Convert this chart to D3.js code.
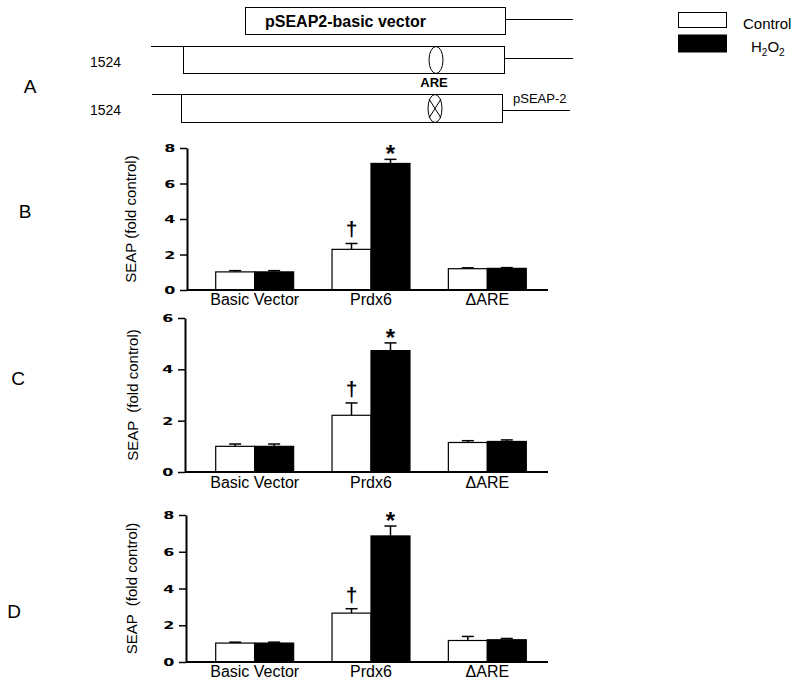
<!DOCTYPE html>
<html>
<head>
<meta charset="utf-8">
<script src="https://cdn.jsdelivr.net/npm/d3@7/dist/d3.min.js"></script>
<style>
  body { margin: 0; background: #fff; }
  text { font-family: "Liberation Sans", Arial, sans-serif; fill: #000; }
</style>
</head>
<body>
<script>
// categories and series
var categories = ["Basic Vector", "Prdx6", "\u0394ARE"];
var series = ["Control", "H2O2"];

// panel B
var controlB = [1.02, 2.29, 1.20];
var controlBErr = [0.07, 0.33, 0.05];
var h2o2B = [1.02, 7.13, 1.22];
var h2o2BErr = [0.07, 0.23, 0.04];
var ticksB = [0, 2, 4, 6, 8];

// panel C
var controlC = [1.00, 2.21, 1.15];
var controlCErr = [0.09, 0.48, 0.07];
var h2o2C = [1.00, 4.73, 1.19];
var h2o2CErr = [0.09, 0.30, 0.06];
var ticksC = [0, 2, 4, 6];

// panel D
var controlD = [1.03, 2.66, 1.17];
var controlDErr = [0.05, 0.24, 0.22];
var h2o2D = [1.03, 6.86, 1.21];
var h2o2DErr = [0.05, 0.54, 0.07];
var ticksD = [0, 2, 4, 6, 8];

// significance marks over Prdx6
var marks = ["\u2020", "*"];

var w = 800, h = 683;
var svg = d3.select("body").append("svg")
  .attr("width", w).attr("height", h);

// ---------- panel A : construct diagram ----------
var gA = svg.append("g").attr("stroke", "#000").attr("fill", "none").attr("stroke-width", 1);
gA.append("rect").attr("x", 245.5).attr("y", 7.5).attr("width", 260).attr("height", 27);
gA.append("line").attr("x1", 506).attr("y1", 19.5).attr("x2", 573).attr("y2", 19.5);

gA.append("line").attr("x1", 151).attr("y1", 46.5).attr("x2", 183).attr("y2", 46.5);
gA.append("rect").attr("x", 183.5).attr("y", 46.5).attr("width", 321).attr("height", 27);
gA.append("line").attr("x1", 505).attr("y1", 58.5).attr("x2", 573).attr("y2", 58.5);
gA.append("ellipse").attr("cx", 436).attr("cy", 60).attr("rx", 7).attr("ry", 13.5);

gA.append("line").attr("x1", 152).attr("y1", 94.5).attr("x2", 181).attr("y2", 94.5);
gA.append("rect").attr("x", 181.5).attr("y", 94.5).attr("width", 321).attr("height", 28);
gA.append("line").attr("x1", 503).attr("y1", 110.5).attr("x2", 570).attr("y2", 110.5);
gA.append("ellipse").attr("cx", 435).attr("cy", 108.5).attr("rx", 7).attr("ry", 14);
gA.append("line").attr("x1", 429).attr("y1", 99).attr("x2", 441).attr("y2", 118);
gA.append("line").attr("x1", 441).attr("y1", 99).attr("x2", 429).attr("y2", 118);

svg.append("text").attr("x", 265).attr("y", 27).style("font-size", "16px")
  .style("font-weight", "bold").text("pSEAP2-basic vector");
svg.append("text").attr("x", 90).attr("y", 67).style("font-size", "14px").text("1524");
svg.append("text").attr("x", 90).attr("y", 115).style("font-size", "14px").text("1524");
svg.append("text").attr("x", 434).attr("y", 87).attr("text-anchor", "middle")
  .style("font-size", "13px").style("font-weight", "bold").text("ARE");
svg.append("text").attr("x", 513).attr("y", 103).style("font-size", "13px").text("pSEAP-2");
svg.append("text").attr("x", 30).attr("y", 93).attr("text-anchor", "middle")
  .style("font-size", "19px").text("A");

// ---------- legend ----------
var legend = svg.append("g");
legend.selectAll("rect").data(series).enter().append("rect")
  .attr("x", 678.5).attr("y", function(d, i) { return i === 0 ? 12.5 : 35; })
  .attr("width", 48).attr("height", function(d, i) { return i === 0 ? 15 : 17; })
  .attr("fill", function(d, i) { return i === 0 ? "#fff" : "#000"; })
  .attr("stroke", "#000");
legend.append("text").attr("x", 743).attr("y", 29).style("font-size", "15px").text("Control");
var ht = legend.append("text").attr("x", 751).attr("y", 52).style("font-size", "15px");
ht.append("tspan").text("H");
ht.append("tspan").attr("dy", 4).style("font-size", "10px").text("2");
ht.append("tspan").attr("dy", -4).text("O");
ht.append("tspan").attr("dy", 4).style("font-size", "10px").text("2");

// ---------- bar panels ----------
var panels = [
  { letter: "B", letterX: 25, letterY: 218, axisX: 187, y0: 290, y1: 148, max: 8, ticks: ticksB,
    label: "SEAP (fold control)", labelX: 131, catY: 305,
    vals: [controlB, h2o2B], errs: [controlBErr, h2o2BErr] },
  { letter: "C", letterX: 18, letterY: 385, axisX: 185, y0: 472, y1: 318, max: 6, ticks: ticksC,
    label: "SEAP  (fold control)", labelX: 133, catY: 488,
    vals: [controlC, h2o2C], errs: [controlCErr, h2o2CErr] },
  { letter: "D", letterX: 14, letterY: 618, axisX: 186, y0: 662, y1: 515, max: 8, ticks: ticksD,
    label: "SEAP  (fold control)", labelX: 132, catY: 677,
    vals: [controlD, h2o2D], errs: [controlDErr, h2o2DErr] }
];

var x = d3.scaleBand().domain(categories).range([195, 547])
  .paddingInner(0.33).paddingOuter(0.178);
var xs = d3.scaleBand().domain(series).range([0, x.bandwidth()]);

panels.forEach(function(p) {
  var y = d3.scaleLinear().domain([0, p.max]).range([p.y0, p.y1]);
  var g = svg.append("g");

  // bars
  series.forEach(function(s, si) {
    var gs = g.append("g");
    gs.selectAll("line.err").data(categories).enter().append("line")
      .attr("x1", function(d) { return x(d) + xs(s) + xs.bandwidth() / 2; })
      .attr("x2", function(d) { return x(d) + xs(s) + xs.bandwidth() / 2; })
      .attr("y1", function(d, i) { return y(p.vals[si][i]); })
      .attr("y2", function(d, i) { return y(p.vals[si][i] + p.errs[si][i]); })
      .attr("stroke", "#000").attr("stroke-width", 1.5);
    gs.selectAll("line.cap").data(categories).enter().append("line")
      .attr("x1", function(d) { return x(d) + xs(s) + xs.bandwidth() / 2 - 6; })
      .attr("x2", function(d) { return x(d) + xs(s) + xs.bandwidth() / 2 + 6; })
      .attr("y1", function(d, i) { return y(p.vals[si][i] + p.errs[si][i]); })
      .attr("y2", function(d, i) { return y(p.vals[si][i] + p.errs[si][i]); })
      .attr("stroke", "#000").attr("stroke-width", 1.5);
    gs.selectAll("rect").data(categories).enter().append("rect")
      .attr("x", function(d) { return x(d) + xs(s); })
      .attr("y", function(d, i) { return y(p.vals[si][i]); })
      .attr("width", xs.bandwidth())
      .attr("height", function(d, i) { return p.y0 - y(p.vals[si][i]); })
      .attr("fill", si === 0 ? "#fff" : "#000")
      .attr("stroke", "#000").attr("stroke-width", 1.2);

    // significance marks over Prdx6
    var k = 1;
    var top = y(p.vals[si][k] + p.errs[si][k]);
    g.append("text")
      .attr("x", x(categories[k]) + xs(s) + xs.bandwidth() / 2)
      .attr("y", si === 0 ? top - 7 : top + 3)
      .attr("text-anchor", "middle")
      .style("font-size", si === 0 ? "21px" : "24px").style("font-weight", "bold")
      .text(marks[si]);
  });

  // y axis
  var ay = g.append("g").attr("transform", "translate(" + p.axisX + ",0)")
    .call(d3.axisLeft(y).tickValues(p.ticks).tickFormat(d3.format("d"))
      .tickSize(7).tickPadding(3).tickSizeOuter(0));
  ay.select(".domain").attr("stroke-width", 2);
  ay.selectAll(".tick line").attr("stroke-width", 1.5);
  ay.selectAll(".tick text")
    .attr("x", -8).attr("transform", "scale(1.45,1)")
    .style("font-family", "'DejaVu Sans', sans-serif")
    .style("font-size", "11px").style("font-weight", "bold");

  // x axis line
  g.append("line").attr("x1", p.axisX).attr("x2", 548)
    .attr("y1", p.y0).attr("y2", p.y0).attr("stroke", "#000").attr("stroke-width", 2);

  // category labels
  g.selectAll("text.cat").data(categories).enter().append("text")
    .attr("x", function(d) { return x(d) + x.bandwidth() / 2; })
    .attr("y", p.catY).attr("text-anchor", "middle")
    .style("font-size", "16px").text(function(d) { return d; });

  // y label
  g.append("text")
    .attr("transform", "translate(" + p.labelX + "," + ((p.y0 + p.y1) / 2) + ") rotate(-90)")
    .attr("text-anchor", "middle").attr("dy", "0.35em")
    .style("font-size", "15px").style("white-space", "pre").text(p.label);

  // panel letter
  svg.append("text").attr("x", p.letterX).attr("y", p.letterY)
    .attr("text-anchor", "middle").style("font-size", "19px").text(p.letter);
});
</script>
</body>
</html>
